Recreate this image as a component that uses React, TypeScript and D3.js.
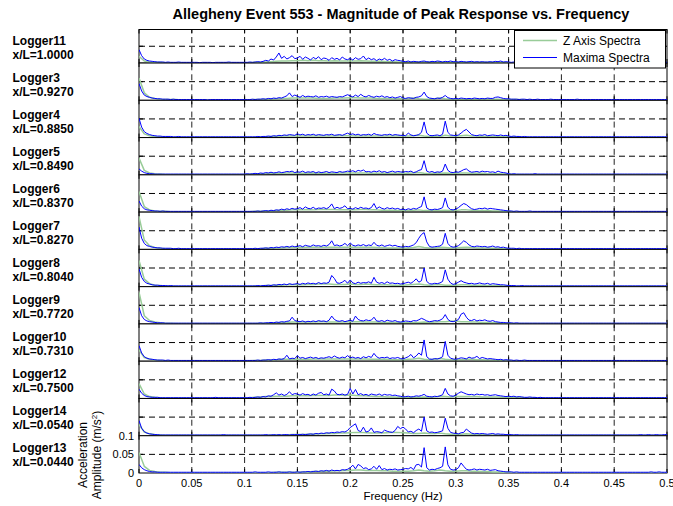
import * as d3 from "d3";

const W = 673;
const H = 506;
const FONT = "'Liberation Sans', Arial, Helvetica, sans-serif";

const loggers = ["Logger11", "Logger3", "Logger4", "Logger5", "Logger6", "Logger7", "Logger8", "Logger9", "Logger10", "Logger12", "Logger14", "Logger13"];
const positions = ["1.0000", "0.9270", "0.8850", "0.8490", "0.8370", "0.8270", "0.8040", "0.7720", "0.7310", "0.7500", "0.0540", "0.0440"];

// amplitudes in 1e-3 m/s^2
// maxima spectra: one value every 0.0025 Hz (each row = 0.05 Hz), 0..0.5 Hz
const maxima11 = [
  40, 22, 12, 8, 6, 5, 4, 3, 3, 3, 2, 3, 2, 2, 2, 3, 2, 2, 2, 2,
  2, 2, 2, 1, 2, 2, 2, 2, 1, 2, 2, 2, 2, 2, 3, 2, 2, 2, 2, 2,
  2, 2, 3, 2, 3, 4, 3, 5, 8, 6, 12, 9, 18, 30, 14, 20, 12, 16, 22, 13,
  15, 20, 11, 18, 14, 9, 17, 12, 19, 10, 15, 13, 8, 16, 11, 14, 9, 18, 12, 10,
  14, 9, 16, 11, 13, 21, 10, 15, 10, 13, 7, 12, 9, 14, 8, 11, 6, 10, 8, 7,
  5, 4, 6, 3, 5, 4, 3, 5, 6, 4, 3, 5, 4, 6, 5, 3, 5, 4, 6, 4,
  4, 3, 5, 4, 3, 4, 5, 3, 4, 3, 4, 3, 3, 4, 3, 5, 4, 6, 3, 4,
  3, 2, 3, 3, 2, 3, 2, 2, 3, 2, 2, 3, 2, 2, 2, 3, 2, 2, 2, 2,
  2, 2, 2, 2, 3, 2, 2, 2, 2, 2, 2, 2, 2, 2, 3, 2, 2, 2, 2, 2,
  2, 2, 2, 2, 2, 2, 2, 2, 2, 3, 2, 2, 2, 2, 2, 2, 2, 2, 2, 2,
  2,
];
const maxima3 = [
  45, 25, 14, 10, 8, 6, 5, 4, 4, 3, 3, 3, 2, 3, 2, 2, 2, 2, 2, 2,
  2, 2, 2, 2, 2, 2, 1, 2, 2, 2, 2, 2, 2, 2, 2, 2, 2, 2, 2, 2,
  2, 2, 2, 3, 2, 3, 3, 4, 3, 5, 4, 6, 5, 7, 6, 9, 12, 20, 10, 14,
  11, 8, 13, 9, 11, 10, 9, 12, 8, 10, 9, 11, 8, 10, 9, 8, 10, 9, 12, 15,
  12, 9, 14, 10, 16, 11, 9, 13, 10, 8, 11, 9, 12, 8, 10, 7, 9, 6, 8, 10,
  6, 5, 7, 6, 5, 8, 9, 12, 22, 10, 6, 5, 4, 6, 5, 8, 13, 7, 5, 4,
  5, 4, 6, 5, 4, 5, 4, 6, 5, 4, 5, 4, 6, 5, 5, 8, 9, 7, 5, 4,
  4, 3, 3, 3, 2, 3, 3, 2, 3, 2, 2, 3, 2, 2, 2, 2, 3, 2, 2, 2,
  2, 2, 2, 2, 2, 2, 3, 2, 2, 2, 2, 2, 2, 2, 2, 2, 2, 2, 2, 2,
  2, 2, 2, 2, 2, 2, 2, 2, 2, 2, 2, 2, 2, 2, 2, 2, 2, 2, 2, 2,
  2,
];
const maxima4 = [
  52, 28, 16, 11, 8, 6, 5, 4, 4, 3, 3, 3, 3, 2, 2, 3, 2, 2, 2, 2,
  2, 2, 2, 2, 2, 2, 2, 2, 2, 2, 2, 2, 2, 2, 2, 2, 2, 2, 2, 2,
  2, 2, 2, 2, 2, 3, 2, 3, 3, 4, 3, 5, 4, 6, 5, 7, 6, 8, 7, 6,
  10, 7, 9, 6, 8, 7, 9, 6, 8, 7, 6, 8, 7, 9, 6, 7, 8, 6, 9, 12,
  8, 10, 7, 9, 6, 8, 7, 9, 6, 11, 8, 7, 6, 8, 7, 9, 6, 8, 7, 6,
  6, 5, 12, 7, 5, 6, 8, 14, 42, 12, 6, 5, 6, 7, 5, 9, 44, 14, 7, 6,
  5, 7, 12, 18, 22, 15, 8, 6, 5, 7, 6, 8, 5, 6, 7, 6, 5, 7, 5, 6,
  4, 3, 4, 3, 3, 2, 3, 2, 2, 2, 2, 2, 2, 2, 2, 2, 2, 2, 2, 2,
  2, 2, 2, 2, 2, 2, 2, 2, 2, 2, 2, 2, 2, 2, 2, 2, 2, 2, 2, 2,
  2, 2, 2, 2, 2, 2, 2, 2, 2, 2, 2, 2, 2, 2, 2, 2, 2, 2, 2, 2,
  2,
];
const maxima5 = [
  16, 10, 6, 4, 3, 3, 2, 2, 2, 2, 2, 2, 2, 2, 2, 2, 2, 2, 2, 2,
  2, 2, 2, 2, 2, 2, 2, 2, 2, 2, 2, 2, 2, 2, 2, 2, 2, 2, 2, 2,
  2, 3, 2, 3, 4, 3, 5, 4, 6, 5, 7, 5, 6, 8, 6, 7, 9, 8, 10, 6,
  8, 7, 10, 6, 8, 7, 9, 5, 8, 6, 7, 9, 6, 8, 7, 6, 9, 7, 8, 10,
  9, 11, 8, 12, 10, 13, 8, 9, 7, 10, 8, 11, 7, 9, 6, 8, 10, 7, 9, 8,
  7, 9, 8, 10, 6, 8, 12, 14, 38, 10, 7, 9, 6, 8, 7, 10, 29, 12, 7, 6,
  8, 7, 10, 14, 16, 10, 7, 8, 9, 7, 10, 8, 9, 7, 8, 6, 10, 7, 6, 5,
  3, 2, 3, 2, 2, 2, 2, 2, 2, 2, 3, 2, 2, 2, 2, 2, 2, 2, 2, 2,
  2, 2, 2, 2, 2, 2, 2, 2, 2, 2, 2, 2, 2, 2, 2, 2, 2, 2, 2, 2,
  2, 2, 2, 2, 2, 2, 2, 2, 2, 2, 2, 2, 2, 2, 2, 2, 2, 2, 2, 2,
  2,
];
const maxima6 = [
  30, 16, 9, 6, 5, 4, 3, 3, 2, 3, 2, 2, 2, 2, 2, 2, 2, 2, 2, 2,
  2, 2, 2, 2, 2, 2, 2, 2, 2, 2, 2, 2, 2, 2, 2, 2, 2, 2, 2, 2,
  2, 2, 2, 2, 2, 3, 2, 3, 4, 3, 5, 4, 6, 5, 8, 6, 9, 7, 10, 8,
  9, 12, 8, 14, 10, 9, 13, 8, 11, 10, 12, 9, 13, 22, 9, 13, 10, 12, 17, 9,
  10, 8, 12, 9, 13, 10, 11, 9, 12, 23, 9, 14, 10, 8, 12, 9, 11, 8, 10, 7,
  8, 6, 9, 7, 10, 8, 12, 15, 41, 11, 7, 6, 8, 7, 9, 12, 38, 13, 7, 6,
  8, 12, 18, 23, 20, 14, 9, 7, 8, 10, 9, 11, 8, 10, 9, 8, 7, 6, 5, 4,
  3, 3, 2, 3, 2, 2, 2, 2, 3, 2, 2, 2, 2, 2, 2, 2, 2, 2, 2, 2,
  2, 2, 2, 2, 2, 2, 2, 2, 2, 2, 2, 2, 2, 2, 2, 2, 2, 2, 2, 2,
  2, 2, 2, 2, 2, 2, 2, 2, 2, 2, 2, 2, 2, 2, 2, 2, 2, 2, 2, 2,
  2,
];
const maxima7 = [
  60, 30, 16, 10, 8, 6, 5, 4, 4, 3, 3, 3, 3, 2, 2, 3, 2, 2, 2, 2,
  2, 2, 2, 2, 2, 2, 2, 2, 2, 2, 2, 2, 2, 2, 2, 2, 2, 2, 2, 2,
  2, 2, 2, 2, 3, 2, 3, 3, 4, 3, 5, 4, 6, 5, 7, 6, 8, 6, 9, 7,
  8, 10, 7, 11, 9, 8, 12, 9, 10, 8, 11, 9, 13, 23, 10, 12, 9, 11, 16, 10,
  17, 11, 9, 12, 10, 13, 9, 12, 10, 19, 11, 9, 12, 8, 10, 12, 9, 11, 8, 7,
  6, 8, 7, 9, 12, 18, 30, 40, 45, 20, 8, 6, 7, 8, 9, 14, 43, 16, 8, 6,
  7, 10, 16, 23, 19, 12, 8, 7, 9, 8, 7, 8, 6, 7, 9, 6, 7, 5, 6, 4,
  3, 3, 3, 2, 3, 2, 2, 2, 2, 2, 2, 2, 2, 2, 2, 2, 2, 2, 2, 2,
  2, 2, 2, 2, 2, 2, 2, 2, 2, 2, 2, 2, 2, 2, 2, 2, 2, 2, 2, 2,
  2, 2, 2, 2, 2, 2, 2, 2, 2, 2, 2, 2, 2, 2, 2, 2, 2, 2, 2, 2,
  2,
];
const maxima8 = [
  48, 25, 14, 9, 7, 5, 4, 4, 3, 3, 3, 2, 3, 2, 2, 2, 2, 2, 2, 2,
  2, 2, 2, 2, 2, 2, 2, 2, 2, 2, 2, 2, 2, 2, 2, 2, 2, 2, 2, 2,
  2, 2, 2, 2, 2, 3, 2, 3, 3, 4, 3, 5, 4, 6, 5, 7, 5, 8, 6, 7,
  8, 6, 9, 7, 10, 8, 9, 7, 11, 8, 10, 9, 12, 30, 22, 10, 9, 12, 17, 9,
  18, 10, 8, 12, 9, 11, 10, 13, 9, 25, 12, 9, 11, 8, 13, 9, 10, 8, 9, 7,
  8, 10, 12, 9, 14, 21, 12, 16, 50, 14, 8, 7, 9, 8, 10, 14, 45, 20, 10, 6,
  8, 12, 16, 12, 10, 8, 9, 7, 8, 10, 8, 7, 9, 6, 8, 7, 6, 5, 5, 4,
  3, 3, 3, 2, 2, 3, 2, 2, 2, 2, 2, 2, 2, 2, 2, 2, 2, 2, 2, 2,
  2, 2, 2, 2, 2, 2, 2, 2, 2, 2, 2, 2, 2, 2, 2, 2, 2, 2, 2, 2,
  2, 2, 2, 2, 2, 2, 2, 2, 2, 2, 2, 2, 2, 2, 2, 2, 2, 2, 2, 2,
  2,
];
const maxima9 = [
  44, 22, 12, 8, 6, 5, 4, 3, 3, 3, 2, 2, 2, 2, 2, 2, 2, 2, 2, 2,
  2, 2, 2, 2, 2, 2, 2, 2, 2, 2, 2, 2, 2, 2, 2, 2, 2, 2, 2, 2,
  2, 2, 2, 2, 2, 2, 3, 2, 3, 3, 4, 3, 5, 4, 6, 5, 7, 8, 18, 9,
  7, 6, 8, 5, 7, 6, 8, 6, 9, 7, 8, 6, 10, 21, 12, 8, 7, 9, 6, 8,
  10, 7, 21, 12, 9, 8, 11, 9, 10, 18, 8, 7, 9, 6, 10, 8, 7, 9, 6, 5,
  6, 8, 7, 6, 9, 8, 11, 15, 12, 8, 6, 7, 9, 8, 10, 14, 25, 12, 7, 6,
  8, 12, 26, 30, 18, 10, 9, 12, 8, 10, 9, 11, 8, 7, 9, 6, 5, 4, 4, 3,
  3, 3, 2, 3, 2, 2, 2, 2, 2, 2, 2, 2, 2, 2, 2, 2, 2, 2, 2, 2,
  2, 2, 2, 2, 2, 2, 2, 2, 2, 2, 2, 2, 2, 2, 2, 2, 2, 2, 2, 2,
  2, 2, 2, 2, 2, 2, 2, 2, 2, 2, 2, 2, 2, 2, 2, 2, 2, 2, 2, 2,
  2,
];
const maxima10 = [
  42, 22, 12, 8, 6, 5, 4, 3, 3, 3, 2, 3, 2, 2, 2, 2, 2, 2, 2, 2,
  2, 2, 2, 2, 2, 2, 2, 2, 2, 2, 2, 2, 2, 2, 2, 2, 2, 2, 2, 2,
  2, 2, 2, 2, 2, 3, 2, 3, 3, 4, 3, 5, 4, 6, 5, 7, 16, 6, 8, 7,
  15, 8, 10, 7, 9, 11, 8, 10, 7, 9, 8, 10, 12, 9, 14, 10, 8, 11, 9, 15,
  9, 11, 8, 10, 7, 12, 9, 13, 10, 21, 12, 8, 10, 9, 11, 7, 9, 8, 10, 7,
  6, 9, 12, 18, 9, 14, 22, 16, 57, 12, 6, 5, 7, 6, 8, 12, 53, 16, 8, 6,
  5, 7, 9, 8, 6, 11, 8, 9, 13, 7, 10, 8, 6, 7, 6, 5, 4, 5, 3, 4,
  3, 3, 2, 3, 2, 2, 3, 2, 2, 2, 2, 2, 2, 2, 2, 2, 2, 2, 2, 2,
  2, 2, 2, 2, 2, 2, 2, 2, 2, 2, 2, 2, 2, 2, 2, 2, 2, 2, 2, 2,
  2, 2, 2, 2, 2, 2, 2, 2, 2, 2, 2, 2, 2, 2, 2, 2, 2, 2, 2, 2,
  2,
];
const maxima12 = [
  25, 14, 8, 5, 4, 3, 3, 3, 2, 2, 2, 2, 2, 2, 2, 2, 2, 2, 2, 2,
  2, 2, 2, 2, 2, 2, 2, 2, 2, 3, 2, 2, 2, 2, 2, 2, 2, 2, 2, 2,
  2, 2, 3, 2, 3, 4, 3, 5, 4, 7, 6, 10, 15, 9, 12, 8, 11, 18, 10, 13,
  12, 9, 13, 10, 11, 8, 12, 9, 14, 16, 10, 12, 9, 25, 20, 11, 10, 12, 9, 11,
  27, 12, 24, 10, 13, 9, 11, 8, 12, 10, 9, 12, 8, 11, 9, 10, 8, 9, 7, 6,
  4, 5, 6, 4, 5, 7, 6, 8, 11, 6, 5, 4, 6, 5, 7, 10, 27, 12, 7, 6,
  9, 14, 18, 15, 12, 10, 11, 9, 12, 10, 11, 9, 10, 8, 9, 10, 8, 7, 6, 5,
  6, 5, 6, 4, 5, 4, 3, 3, 4, 3, 3, 2, 3, 2, 2, 2, 2, 2, 2, 2,
  2, 2, 2, 2, 2, 2, 2, 2, 2, 2, 2, 2, 2, 2, 2, 2, 2, 2, 2, 2,
  2, 2, 2, 2, 2, 2, 2, 2, 2, 2, 2, 2, 2, 2, 2, 2, 2, 2, 2, 2,
  2,
];
const maxima14 = [
  41, 20, 11, 7, 5, 4, 3, 3, 2, 2, 2, 2, 2, 2, 2, 2, 2, 2, 2, 2,
  2, 2, 2, 2, 2, 2, 2, 2, 2, 2, 2, 2, 3, 2, 2, 2, 2, 2, 2, 2,
  2, 2, 2, 2, 2, 2, 2, 2, 3, 2, 2, 3, 2, 3, 2, 3, 3, 2, 3, 3,
  3, 3, 4, 3, 4, 5, 4, 6, 5, 7, 6, 8, 7, 9, 8, 10, 9, 11, 10, 14,
  22, 27, 32, 14, 11, 23, 10, 12, 21, 9, 11, 10, 8, 15, 12, 10, 9, 14, 25, 19,
  23, 18, 10, 12, 8, 14, 18, 12, 50, 13, 9, 10, 8, 9, 11, 13, 47, 20, 9, 7,
  6, 5, 8, 9, 18, 12, 7, 5, 6, 5, 6, 5, 4, 5, 6, 4, 5, 4, 4, 3,
  3, 3, 2, 3, 2, 2, 2, 2, 2, 2, 2, 2, 2, 2, 2, 2, 2, 2, 2, 2,
  2, 2, 2, 2, 2, 2, 2, 2, 2, 2, 2, 2, 2, 2, 2, 2, 2, 2, 2, 2,
  2, 2, 2, 2, 2, 2, 2, 2, 2, 2, 3, 2, 2, 3, 2, 2, 3, 2, 2, 3,
  3,
];
const maxima13 = [
  23, 14, 9, 6, 4, 3, 3, 2, 2, 2, 2, 2, 2, 2, 2, 2, 2, 2, 2, 2,
  2, 2, 2, 2, 2, 2, 2, 2, 2, 2, 2, 2, 2, 2, 2, 2, 2, 2, 2, 2,
  2, 2, 2, 2, 3, 2, 2, 2, 2, 3, 2, 2, 2, 3, 2, 2, 2, 3, 2, 2,
  3, 2, 3, 3, 4, 3, 4, 5, 4, 6, 5, 7, 5, 8, 6, 7, 6, 9, 8, 10,
  14, 21, 11, 23, 19, 12, 14, 9, 11, 18, 10, 20, 9, 12, 8, 10, 9, 11, 8, 9,
  10, 12, 11, 15, 9, 22, 23, 16, 68, 14, 8, 10, 9, 12, 14, 18, 70, 22, 10, 8,
  9, 14, 27, 18, 10, 8, 9, 11, 8, 10, 9, 8, 10, 7, 8, 9, 6, 5, 4, 3,
  3, 3, 2, 3, 2, 2, 2, 2, 2, 2, 2, 2, 2, 2, 2, 2, 2, 2, 2, 2,
  2, 2, 2, 2, 2, 2, 2, 2, 2, 2, 2, 2, 2, 2, 2, 2, 2, 2, 2, 2,
  2, 2, 2, 2, 2, 2, 2, 2, 2, 2, 2, 2, 2, 2, 3, 2, 2, 3, 2, 2,
  2,
];

// z axis spectra: one value every 0.005 Hz (each row = 0.05 Hz), 0..0.5 Hz
const zaxis11 = [
  20, 6, 3, 2, 2, 1, 1, 1, 1, 1,
  1, 1, 1, 1, 1, 1, 1, 1, 1, 1,
  1, 1, 2, 2, 3, 4, 5, 6, 6, 7,
  7, 8, 7, 8, 7, 7, 6, 7, 6, 6,
  6, 6, 7, 6, 5, 5, 5, 4, 4, 3,
  3, 3, 3, 3, 3, 3, 3, 3, 2, 2,
  2, 2, 2, 2, 2, 2, 2, 2, 2, 2,
  1, 1, 1, 1, 1, 1, 1, 1, 1, 1,
  1, 1, 1, 1, 1, 1, 1, 1, 1, 1,
  1, 1, 1, 1, 1, 1, 1, 1, 1, 1,
  1,
];
const zaxis3 = [
  60, 20, 8, 5, 3, 2, 2, 2, 1, 1,
  1, 1, 1, 1, 1, 1, 1, 1, 1, 1,
  1, 1, 2, 2, 3, 3, 4, 5, 5, 6,
  6, 6, 6, 6, 5, 5, 5, 6, 6, 6,
  7, 7, 6, 6, 6, 5, 5, 5, 4, 4,
  4, 4, 6, 4, 3, 3, 4, 6, 4, 3,
  3, 3, 3, 3, 3, 3, 4, 3, 3, 2,
  2, 2, 2, 1, 1, 1, 1, 1, 1, 1,
  1, 1, 1, 1, 1, 1, 1, 1, 1, 1,
  1, 1, 1, 1, 1, 1, 1, 1, 1, 1,
  1,
];
const zaxis4 = [
  30, 10, 5, 3, 2, 2, 1, 1, 1, 1,
  1, 1, 1, 1, 1, 1, 1, 1, 1, 1,
  1, 1, 1, 2, 2, 3, 3, 4, 4, 4,
  4, 4, 4, 4, 4, 4, 4, 4, 5, 5,
  5, 4, 4, 4, 4, 4, 4, 4, 4, 4,
  4, 4, 5, 6, 4, 3, 4, 3, 6, 4,
  4, 5, 6, 4, 4, 3, 3, 3, 3, 3,
  2, 2, 2, 1, 1, 1, 1, 1, 1, 1,
  1, 1, 1, 1, 1, 1, 1, 1, 1, 1,
  1, 1, 1, 1, 1, 1, 1, 1, 1, 1,
  1,
];
const zaxis5 = [
  45, 12, 5, 3, 2, 1, 1, 1, 1, 1,
  1, 1, 1, 1, 1, 1, 1, 1, 1, 1,
  1, 2, 2, 3, 3, 4, 4, 4, 5, 5,
  4, 4, 4, 5, 4, 4, 4, 4, 5, 5,
  5, 5, 5, 5, 4, 4, 4, 4, 4, 4,
  4, 4, 5, 6, 4, 3, 5, 4, 5, 4,
  4, 5, 5, 4, 4, 4, 3, 3, 3, 2,
  2, 1, 1, 1, 1, 1, 1, 1, 1, 1,
  1, 1, 1, 1, 1, 1, 1, 1, 1, 1,
  1, 1, 1, 1, 1, 1, 1, 1, 1, 1,
  1,
];
const zaxis6 = [
  55, 15, 6, 3, 2, 2, 1, 1, 1, 1,
  1, 1, 1, 1, 1, 1, 1, 1, 1, 1,
  1, 1, 2, 2, 3, 3, 4, 5, 5, 6,
  6, 6, 7, 6, 7, 7, 7, 7, 6, 6,
  6, 6, 7, 7, 6, 6, 5, 5, 5, 4,
  4, 4, 5, 6, 4, 4, 5, 4, 5, 4,
  4, 6, 6, 5, 4, 4, 4, 3, 3, 2,
  2, 1, 1, 1, 1, 1, 1, 1, 1, 1,
  1, 1, 1, 1, 1, 1, 1, 1, 1, 1,
  1, 1, 1, 1, 1, 1, 1, 1, 1, 1,
  1,
];
const zaxis7 = [
  88, 25, 10, 5, 3, 2, 2, 1, 1, 1,
  1, 1, 1, 1, 1, 1, 1, 1, 1, 1,
  1, 1, 2, 2, 3, 3, 4, 4, 5, 5,
  5, 5, 6, 6, 6, 6, 6, 6, 6, 6,
  6, 6, 6, 6, 6, 5, 5, 4, 4, 4,
  4, 4, 5, 8, 5, 4, 4, 6, 5, 4,
  4, 5, 6, 5, 4, 4, 4, 3, 3, 2,
  2, 1, 1, 1, 1, 1, 1, 1, 1, 1,
  1, 1, 1, 1, 1, 1, 1, 1, 1, 1,
  1, 1, 1, 1, 1, 1, 1, 1, 1, 1,
  1,
];
const zaxis8 = [
  70, 20, 8, 4, 3, 2, 2, 1, 1, 1,
  1, 1, 1, 1, 1, 1, 1, 1, 1, 1,
  1, 1, 2, 2, 3, 3, 4, 4, 5, 5,
  5, 5, 6, 6, 7, 7, 7, 6, 6, 6,
  7, 6, 6, 7, 6, 5, 5, 5, 4, 4,
  4, 5, 6, 7, 5, 4, 5, 6, 4, 4,
  4, 5, 5, 4, 4, 4, 3, 3, 3, 2,
  2, 1, 1, 1, 1, 1, 1, 1, 1, 1,
  1, 1, 1, 1, 1, 1, 1, 1, 1, 1,
  1, 1, 1, 1, 1, 1, 1, 1, 1, 1,
  1,
];
const zaxis9 = [
  85, 22, 9, 5, 3, 2, 2, 1, 1, 1,
  1, 1, 1, 1, 1, 1, 1, 1, 1, 1,
  1, 1, 1, 2, 2, 3, 3, 4, 4, 5,
  5, 5, 5, 5, 6, 6, 5, 5, 5, 5,
  6, 6, 6, 5, 5, 5, 4, 4, 4, 4,
  4, 4, 4, 4, 5, 4, 5, 6, 6, 7,
  8, 6, 6, 5, 5, 4, 4, 3, 3, 2,
  2, 1, 1, 1, 1, 1, 1, 1, 1, 1,
  1, 1, 1, 1, 1, 1, 1, 1, 1, 1,
  1, 1, 1, 1, 1, 1, 1, 1, 1, 1,
  1,
];
const zaxis10 = [
  30, 10, 5, 3, 2, 1, 1, 1, 1, 1,
  1, 1, 1, 1, 1, 1, 1, 1, 1, 1,
  1, 1, 2, 2, 3, 3, 4, 5, 5, 5,
  5, 5, 5, 6, 6, 6, 6, 6, 6, 6,
  6, 6, 6, 6, 5, 5, 5, 5, 4, 4,
  4, 5, 6, 8, 5, 4, 5, 7, 5, 4,
  4, 4, 5, 5, 4, 4, 3, 3, 2, 2,
  2, 1, 1, 1, 1, 1, 1, 1, 1, 1,
  1, 1, 1, 1, 1, 1, 1, 1, 1, 1,
  1, 1, 1, 1, 1, 1, 1, 1, 1, 1,
  1,
];
const zaxis12 = [
  40, 12, 5, 3, 2, 1, 1, 1, 1, 1,
  1, 1, 1, 1, 1, 1, 1, 1, 1, 1,
  1, 2, 3, 4, 5, 5, 6, 6, 6, 7,
  7, 7, 7, 8, 8, 8, 8, 9, 9, 8,
  9, 8, 7, 7, 6, 5, 5, 4, 4, 3,
  3, 3, 3, 3, 4, 3, 4, 6, 5, 4,
  5, 5, 5, 5, 5, 4, 4, 4, 4, 3,
  3, 3, 3, 2, 2, 2, 1, 1, 1, 1,
  1, 1, 1, 1, 1, 1, 1, 1, 1, 1,
  1, 1, 1, 1, 1, 1, 1, 1, 1, 1,
  1,
];
const zaxis14 = [
  30, 10, 5, 3, 2, 1, 1, 1, 1, 1,
  1, 1, 1, 1, 1, 1, 1, 1, 1, 1,
  1, 1, 1, 1, 1, 2, 2, 2, 2, 3,
  3, 3, 4, 4, 5, 5, 6, 6, 7, 7,
  8, 9, 9, 8, 7, 7, 7, 8, 9, 9,
  8, 7, 6, 6, 7, 6, 6, 7, 5, 4,
  4, 4, 5, 4, 3, 3, 2, 2, 2, 2,
  2, 1, 1, 1, 1, 1, 1, 1, 1, 1,
  1, 1, 1, 1, 1, 1, 1, 1, 1, 1,
  1, 1, 1, 1, 1, 1, 1, 1, 1, 1,
  1,
];
const zaxis13 = [
  55, 18, 7, 4, 2, 2, 1, 1, 1, 1,
  1, 1, 1, 1, 1, 1, 1, 1, 1, 1,
  1, 1, 1, 1, 1, 1, 2, 2, 2, 2,
  2, 3, 3, 4, 4, 5, 5, 6, 6, 7,
  7, 8, 8, 7, 7, 7, 6, 6, 5, 5,
  5, 5, 6, 8, 6, 5, 6, 8, 6, 5,
  5, 6, 6, 5, 5, 4, 4, 3, 3, 2,
  2, 1, 1, 1, 1, 1, 1, 1, 1, 1,
  1, 1, 1, 1, 1, 1, 1, 1, 1, 1,
  1, 1, 1, 1, 1, 1, 1, 1, 1, 1,
  1,
];

const maxima = [maxima11, maxima3, maxima4, maxima5, maxima6, maxima7, maxima8, maxima9, maxima10, maxima12, maxima14, maxima13];
const zaxis = [zaxis11, zaxis3, zaxis4, zaxis5, zaxis6, zaxis7, zaxis8, zaxis9, zaxis10, zaxis12, zaxis14, zaxis13];

const xTicks = [0, 0.05, 0.1, 0.15, 0.2, 0.25, 0.3, 0.35, 0.4, 0.45, 0.5];
const xTickLabels = ["0", "0.05", "0.1", "0.15", "0.2", "0.25", "0.3", "0.35", "0.4", "0.45", "0.5"];
const yTicks = [0, 50, 100];
const yTickLabels = ["0", "0.05", "0.1"];
const legendLabels = ["Z Axis Spectra", "Maxima Spectra"];

const MAXIMA_STEP = 0.0025;
const ZAXIS_STEP = 0.005;
const GREEN = "#99cc99";
const BLUE = "#0000ff";

export default function App() {
  const x = d3.scaleLinear().domain([0, 0.5]).range([139, 667]);
  const panelH = 37.27;
  const plotBottom = 473;

  const panels = loggers.map((name, i) => {
    const bottom = plotBottom - (loggers.length - 1 - i) * panelH;
    const top = i === 0 ? 29.5 : bottom - panelH;
    const y = d3.scaleLinear().domain([0, 100]).range([bottom, top]);
    return { name, pos: positions[i], top, bottom, y, max: maxima[i], z: zaxis[i] };
  });
  const last = panels[panels.length - 1];

  return (
    <svg
      width={W}
      height={H}
      viewBox={`0 0 ${W} ${H}`}
      style={{ position: "absolute", left: 0, top: 0, background: "#fff" }}
      fontFamily={FONT}
    >
      <defs>
        {panels.map((p, i) => (
          <clipPath key={i} id={`clip-${i}`}>
            <rect x={x(0)} y={p.top} width={x(0.5) - x(0)} height={p.bottom - p.top} />
          </clipPath>
        ))}
      </defs>

      <text x={401} y={19} textAnchor="middle" fontSize={14.5} fontWeight="bold" fill="#000">
        Allegheny Event 553 - Magnitude of Peak Response vs. Frequency
      </text>

      {panels.map((p, i) => {
        const mid = p.y(50);
        const zLine = d3
          .line<number>()
          .x((_, k) => x(k * ZAXIS_STEP))
          .y((d) => p.y(d));
        const mLine = d3
          .line<number>()
          .x((_, k) => x(k * MAXIMA_STEP))
          .y((d) => p.y(d));
        return (
          <g key={p.name}>
            <rect x={x(0)} y={p.top} width={x(0.5) - x(0)} height={p.bottom - p.top} fill="#fff" />
            {/* grid */}
            <line x1={x(0)} x2={x(0.5)} y1={mid} y2={mid} stroke="#000" strokeWidth={1} strokeDasharray="6,4" />
            {xTicks.slice(1, -1).map((t) => (
              <line key={t} x1={x(t)} x2={x(t)} y1={p.bottom} y2={p.top} stroke="#222" strokeWidth={1} strokeDasharray="6,4" />
            ))}
            {/* ticks */}
            {xTicks.map((t) => (
              <g key={`t${t}`} stroke="#000" strokeWidth={1}>
                <line x1={x(t)} x2={x(t)} y1={p.bottom} y2={p.bottom - 4} />
                <line x1={x(t)} x2={x(t)} y1={p.top} y2={p.top + 4} />
              </g>
            ))}
            <line x1={x(0)} x2={x(0) + 4} y1={mid} y2={mid} stroke="#000" />
            <line x1={x(0.5)} x2={x(0.5) - 4} y1={mid} y2={mid} stroke="#000" />
            <rect x={x(0)} y={p.top} width={x(0.5) - x(0)} height={p.bottom - p.top} fill="none" stroke="#000" strokeWidth={1} />
            {/* data */}
            <g clipPath={`url(#clip-${i})`}>
              <path d={zLine(p.z) ?? ""} fill="none" stroke={GREEN} strokeWidth={1.5} strokeLinejoin="round" />
              <path d={mLine(p.max) ?? ""} fill="none" stroke={BLUE} strokeWidth={1} strokeLinejoin="round" />
            </g>
            {/* logger labels */}
            <text x={12.5} y={45 + i * 36.97} fontSize={12} fontWeight="bold" fill="#000">
              {p.name}
            </text>
            <text x={12.5} y={59 + i * 36.97} fontSize={12} fontWeight="bold" fill="#000">
              {`x/L=${p.pos}`}
            </text>
          </g>
        );
      })}

      {/* y ticks on bottom axis */}
      {yTicks.map((t, i) => (
        <text key={t} x={134} y={last.y(t)} dy="0.35em" textAnchor="end" fontSize={11} fill="#000">
          {yTickLabels[i]}
        </text>
      ))}
      <g transform={`translate(87,455) rotate(-90)`}>
        <text textAnchor="middle" fontSize={12} fill="#000">Acceleration</text>
      </g>
      <g transform={`translate(100.5,455) rotate(-90)`}>
        <text textAnchor="middle" fontSize={12} fill="#000">
          Amplitude (m/s<tspan dy={-4} fontSize={8}>2</tspan>
          <tspan dy={4}>)</tspan>
        </text>
      </g>

      {/* x ticks */}
      {xTicks.map((t, i) => (
        <text key={t} x={x(t)} y={487} textAnchor="middle" fontSize={11} fill="#000">
          {xTickLabels[i]}
        </text>
      ))}
      <text x={403} y={500} textAnchor="middle" fontSize={11.5} fill="#000">
        Frequency (Hz)
      </text>

      {/* legend */}
      <g>
        <rect x={514.5} y={30.5} width={151} height={37.5} fill="#fff" stroke="#000" strokeWidth={1} />
        {legendLabels.map((label, i) => (
          <g key={label}>
            <line x1={523} x2={557} y1={40.5 + i * 17} y2={40.5 + i * 17} stroke={i === 0 ? GREEN : BLUE} strokeWidth={i === 0 ? 1.5 : 1} />
            <text x={563} y={40.5 + i * 17} dy="0.35em" fontSize={12} fill="#000">
              {label}
            </text>
          </g>
        ))}
      </g>
    </svg>
  );
}
